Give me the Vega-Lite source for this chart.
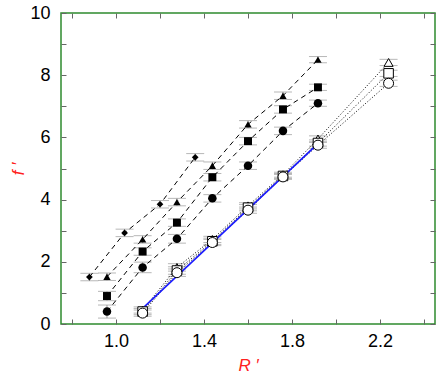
{
  "$schema": "https://vega.github.io/schema/vega-lite/v6.json",
  "width": 374,
  "height": 311,
  "autosize": "none",
  "padding": {"left": 61, "top": 13, "right": 1, "bottom": 53},
  "config": {
    "view": {"stroke": "#2e8b2e", "strokeWidth": 1.5},
    "axis": {
      "domain": false, "grid": false,
      "labelFont": "Liberation Sans", "labelFontSize": 18, "labelColor": "#000",
      "tickColor": "#666", "tickSize": -5,
      "titleFont": "Liberation Sans", "titleFontStyle": "italic", "titleFontWeight": "normal",
      "titleColor": "#ff2020", "titleFontSize": 17
    }
  },
  "data": {"values": [
    {"s": "dia", "g": "f", "x": 0.879, "y": 1.51, "lo": 1.39, "hi": 1.63},
    {"s": "dia", "g": "f", "x": 1.039, "y": 2.93, "lo": 2.81, "hi": 3.05},
    {"s": "dia", "g": "f", "x": 1.20, "y": 3.85, "lo": 3.73, "hi": 3.97},
    {"s": "dia", "g": "f", "x": 1.36, "y": 5.36, "lo": 5.24, "hi": 5.48},
    {"s": "tri", "g": "f", "x": 0.959, "y": 1.52, "lo": 1.40, "hi": 1.64},
    {"s": "tri", "g": "f", "x": 1.121, "y": 2.72, "lo": 2.60, "hi": 2.84},
    {"s": "tri", "g": "f", "x": 1.277, "y": 3.92, "lo": 3.80, "hi": 4.04},
    {"s": "tri", "g": "f", "x": 1.438, "y": 5.09, "lo": 4.97, "hi": 5.21},
    {"s": "tri", "g": "f", "x": 1.600, "y": 6.42, "lo": 6.30, "hi": 6.54},
    {"s": "tri", "g": "f", "x": 1.759, "y": 7.34, "lo": 7.22, "hi": 7.46},
    {"s": "tri", "g": "f", "x": 1.918, "y": 8.50, "lo": 8.40, "hi": 8.60},
    {"s": "sq", "g": "f", "x": 0.959, "y": 0.90, "lo": 0.75, "hi": 1.05},
    {"s": "sq", "g": "f", "x": 1.121, "y": 2.33, "lo": 2.21, "hi": 2.45},
    {"s": "sq", "g": "f", "x": 1.277, "y": 3.26, "lo": 3.14, "hi": 3.38},
    {"s": "sq", "g": "f", "x": 1.438, "y": 4.72, "lo": 4.60, "hi": 4.84},
    {"s": "sq", "g": "f", "x": 1.600, "y": 5.88, "lo": 5.76, "hi": 6.00},
    {"s": "sq", "g": "f", "x": 1.759, "y": 6.90, "lo": 6.78, "hi": 7.02},
    {"s": "sq", "g": "f", "x": 1.918, "y": 7.61, "lo": 7.51, "hi": 7.71},
    {"s": "ci", "g": "f", "x": 0.959, "y": 0.40, "lo": 0.19, "hi": 0.61},
    {"s": "ci", "g": "f", "x": 1.121, "y": 1.82, "lo": 1.65, "hi": 1.99},
    {"s": "ci", "g": "f", "x": 1.277, "y": 2.74, "lo": 2.60, "hi": 2.88},
    {"s": "ci", "g": "f", "x": 1.438, "y": 4.04, "lo": 3.92, "hi": 4.16},
    {"s": "ci", "g": "f", "x": 1.600, "y": 5.09, "lo": 4.97, "hi": 5.21},
    {"s": "ci", "g": "f", "x": 1.759, "y": 6.21, "lo": 6.09, "hi": 6.33},
    {"s": "ci", "g": "f", "x": 1.918, "y": 7.10, "lo": 7.00, "hi": 7.20},
    {"s": "otri", "g": "o", "x": 1.121, "y": 0.45, "lo": 0.35, "hi": 0.55},
    {"s": "otri", "g": "o", "x": 1.277, "y": 1.82, "lo": 1.70, "hi": 1.94},
    {"s": "otri", "g": "o", "x": 1.438, "y": 2.72, "lo": 2.62, "hi": 2.82},
    {"s": "otri", "g": "o", "x": 1.600, "y": 3.80, "lo": 3.70, "hi": 3.90},
    {"s": "otri", "g": "o", "x": 1.759, "y": 4.80, "lo": 4.72, "hi": 4.88},
    {"s": "otri", "g": "o", "x": 1.918, "y": 5.95, "lo": 5.85, "hi": 6.05},
    {"s": "otri", "g": "o", "x": 2.239, "y": 8.41, "lo": 8.31, "hi": 8.51},
    {"s": "osq", "g": "o", "x": 1.121, "y": 0.40, "lo": 0.30, "hi": 0.50},
    {"s": "osq", "g": "o", "x": 1.277, "y": 1.72, "lo": 1.60, "hi": 1.84},
    {"s": "osq", "g": "o", "x": 1.438, "y": 2.66, "lo": 2.56, "hi": 2.76},
    {"s": "osq", "g": "o", "x": 1.600, "y": 3.74, "lo": 3.64, "hi": 3.84},
    {"s": "osq", "g": "o", "x": 1.759, "y": 4.76, "lo": 4.68, "hi": 4.84},
    {"s": "osq", "g": "o", "x": 1.918, "y": 5.82, "lo": 5.72, "hi": 5.92},
    {"s": "osq", "g": "o", "x": 2.239, "y": 8.06, "lo": 7.96, "hi": 8.16},
    {"s": "oci", "g": "o", "x": 1.121, "y": 0.35, "lo": 0.25, "hi": 0.45},
    {"s": "oci", "g": "o", "x": 1.277, "y": 1.65, "lo": 1.53, "hi": 1.77},
    {"s": "oci", "g": "o", "x": 1.438, "y": 2.62, "lo": 2.52, "hi": 2.72},
    {"s": "oci", "g": "o", "x": 1.600, "y": 3.66, "lo": 3.56, "hi": 3.76},
    {"s": "oci", "g": "o", "x": 1.759, "y": 4.73, "lo": 4.65, "hi": 4.81},
    {"s": "oci", "g": "o", "x": 1.918, "y": 5.75, "lo": 5.65, "hi": 5.85},
    {"s": "oci", "g": "o", "x": 2.239, "y": 7.74, "lo": 7.64, "hi": 7.84}
  ]},
  "resolve": {"axis": {"x": "independent", "y": "independent"}},
  "layer": [
    {
      "mark": {"type": "rule", "color": "#999999", "strokeWidth": 1},
      "encoding": {
        "x": {"field": "x", "type": "quantitative", "scale": {"domain": [0.75, 2.45], "nice": false, "zero": false},
              "axis": {"orient": "bottom", "values": [0.8, 1.0, 1.2, 1.4, 1.6, 1.8, 2.0, 2.2, 2.4], "format": ".1f",
                       "labelExpr": "indexof(['1.0','1.4','1.8','2.2'], datum.label) >= 0 ? datum.label : ''",
                       "labelPadding": 13, "title": "R \u2032", "titlePadding": 7}},
        "y": {"field": "lo", "type": "quantitative", "scale": {"domain": [0, 10], "nice": false, "zero": false},
              "axis": {"orient": "left", "values": [0, 1, 2, 3, 4, 5, 6, 7, 8, 9, 10],
                       "labelExpr": "datum.value % 2 == 0 ? datum.label : ''",
                       "labelPadding": 16, "title": "f \u2032", "titlePadding": 2}},
        "y2": {"field": "hi"}
      }
    },
    {
      "mark": {"type": "tick", "orient": "horizontal", "color": "#999999", "size": 18, "thickness": 1},
      "encoding": {
        "x": {"field": "x", "type": "quantitative",
              "axis": {"orient": "top", "values": [0.8, 1.0, 1.2, 1.4, 1.6, 1.8, 2.0, 2.2, 2.4], "labels": false, "title": null}},
        "y": {"field": "lo", "type": "quantitative",
              "axis": {"orient": "right", "values": [0, 1, 2, 3, 4, 5, 6, 7, 8, 9, 10], "labels": false, "title": null}}
      }
    },
    {
      "mark": {"type": "tick", "orient": "horizontal", "color": "#999999", "size": 18, "thickness": 1},
      "encoding": {
        "x": {"field": "x", "type": "quantitative", "axis": null},
        "y": {"field": "hi", "type": "quantitative", "axis": null}
      }
    },
    {
      "transform": [{"filter": "datum.g == 'f'"}],
      "mark": {"type": "line", "color": "#000", "strokeWidth": 1, "strokeDash": [5, 4]},
      "encoding": {
        "x": {"field": "x", "type": "quantitative", "axis": null},
        "y": {"field": "y", "type": "quantitative", "axis": null},
        "detail": {"field": "s"}
      }
    },
    {
      "transform": [{"filter": "datum.g == 'o'"}],
      "mark": {"type": "line", "color": "#000", "strokeWidth": 1, "strokeDash": [1, 2]},
      "encoding": {
        "x": {"field": "x", "type": "quantitative", "axis": null},
        "y": {"field": "y", "type": "quantitative", "axis": null},
        "detail": {"field": "s"}
      }
    },
    {
      "data": {"values": [{"x": 1.11, "y": 0.43}, {"x": 1.918, "y": 5.8}]},
      "mark": {"type": "line", "color": "#1a1aff", "strokeWidth": 1.6},
      "encoding": {
        "x": {"field": "x", "type": "quantitative", "axis": null},
        "y": {"field": "y", "type": "quantitative", "axis": null}
      }
    },
    {
      "transform": [{"filter": "datum.g == 'f'"}],
      "mark": {"type": "point", "filled": true, "color": "#000", "opacity": 1},
      "encoding": {
        "x": {"field": "x", "type": "quantitative", "axis": null},
        "y": {"field": "y", "type": "quantitative", "axis": null},
        "shape": {"field": "s", "type": "nominal", "legend": null,
                  "scale": {"domain": ["dia", "tri", "sq", "ci", "otri", "osq", "oci"], "range": ["diamond", "triangle-up", "square", "circle", "triangle-up", "square", "circle"]}},
        "size": {"field": "s", "type": "nominal", "legend": null,
                 "scale": {"domain": ["dia", "tri", "sq", "ci", "otri", "osq", "oci"], "range": [45, 100, 50, 65, 80, 50, 55]}}
      }
    },
    {
      "transform": [{"filter": "datum.g == 'o'"}],
      "mark": {"type": "point", "filled": false, "fill": "#fff", "fillOpacity": 1, "stroke": "#000", "strokeWidth": 1, "opacity": 1},
      "encoding": {
        "x": {"field": "x", "type": "quantitative", "axis": null},
        "y": {"field": "y", "type": "quantitative", "axis": null},
        "shape": {"field": "s", "type": "nominal", "legend": null},
        "size": {"field": "s", "type": "nominal", "legend": null}
      }
    }
  ]
}
